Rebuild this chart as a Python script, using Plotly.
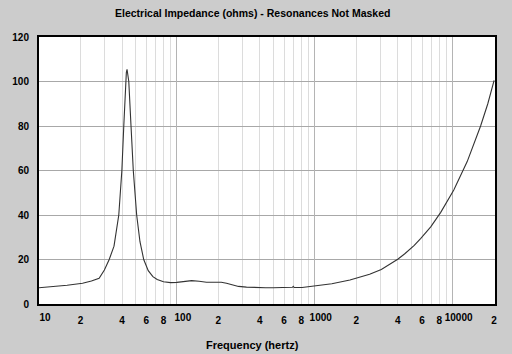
import plotly.graph_objects as go
import math

freq_hz = [10, 12.6, 16, 20.7, 24, 27.3, 29.8, 32.3, 35, 37.9, 39.9, 41.2, 42.3, 43.0, 43.5,
           44.2, 44.8, 46.5, 48.3, 51.1, 54, 57.5, 62, 67, 72, 80, 90, 100, 115, 128, 145,
           164, 190, 210, 229, 255, 280, 320, 374, 440, 500, 600, 690, 698, 710, 810, 1013,
           1330, 1800, 2015, 2500, 3040, 3500, 4000, 4500, 5270, 5880, 6940, 8200, 10200,
           12760, 15960, 18000, 20000]
impedance_ohms = [7.3, 7.8, 8.4, 9.3, 10.3, 11.6, 15.3, 20, 26, 40, 60, 80, 100, 104, 105.5,
                  103, 100, 80, 60, 40, 28, 20, 15, 12.3, 11, 10, 9.6, 9.7, 10.2, 10.5, 10.2,
                  9.8, 9.8, 9.8, 9.3, 8.5, 7.9, 7.6, 7.3, 7.3, 7.3, 7.3, 7.5, 7.9, 7.4, 7.4, 8.1,
                  9.1, 10.8, 11.6, 13.4, 15.5, 17.8, 20.1, 22.6, 26.3, 29.5, 34.7, 41.2, 51.2,
                  64, 80, 90, 100.5]

decade_vals = [10, 100, 1000, 10000]
decade_text = ["10", "100", "1000", "10000"]
minor_vals = [m * d for d in [10, 100, 1000] for m in range(2, 10)] + [20000]
minor_text = [("" if (v // 10 ** int(math.log10(v))) % 2 else str(v // 10 ** int(math.log10(v))))
              for v in minor_vals]
y_ticks = [0, 20, 40, 60, 80, 100, 120]

title_text = "Electrical Impedance (ohms) - Resonances Not Masked"
xlabel_text = "Frequency (hertz)"

xrange = [1, math.log10(20300)]
fam = "Liberation Sans, Arial, sans-serif"
font = dict(family=fam, size=10, color="#000000", weight="bold")
title_font = dict(family=fam, size=10.5, color="#000000", weight="bold")
xlabel_font = dict(family=fam, size=11, color="#000000", weight="bold")

fig = go.Figure()
fig.add_trace(go.Scatter(x=freq_hz, y=impedance_ohms, xaxis="x2", yaxis="y",
                         mode="lines", line=dict(color="rgba(0,0,0,0)", width=1),
                         hoverinfo="skip", showlegend=False))
fig.add_trace(go.Scatter(x=freq_hz, y=impedance_ohms, mode="lines",
                         line=dict(color="#333333", width=1.1), showlegend=False))

fig.update_layout(
    width=512, height=354,
    margin=dict(l=34, r=17, t=37, b=50),
    paper_bgcolor="#cccccc",
    plot_bgcolor="#ffffff",
    font=font,
    xaxis=dict(type="log", range=xrange, tickmode="array", tickvals=minor_vals,
               ticktext=minor_text, showgrid=True, gridcolor="#dcdcdc", gridwidth=1,
               ticks="", ticklabelstandoff=6, showline=True, linecolor="#000000",
               linewidth=2, mirror=True, zeroline=False, tickfont=font),
    xaxis2=dict(type="log", range=xrange, overlaying="x", side="bottom", anchor="y",
                tickmode="array", tickvals=decade_vals, ticktext=decade_text,
                showgrid=True, gridcolor="#b4b4b4", gridwidth=1, ticks="",
                ticklabelstandoff=6, ticklabelshift=6, showline=False,
                zeroline=False, tickfont=font),
    yaxis=dict(range=[0, 120], tickmode="array", tickvals=y_ticks, showgrid=True,
               gridcolor="#a8a8a8", gridwidth=1, ticks="", ticklabelstandoff=6,
               showline=True, linecolor="#000000", linewidth=2, mirror=True,
               zeroline=False, tickfont=font),
    annotations=[
        dict(text=title_text, xref="paper", yref="paper", x=0.4685, y=1, yshift=24,
             showarrow=False, font=title_font, xanchor="center", yanchor="middle"),
        dict(text=xlabel_text, xref="paper", yref="paper", x=0.4685, y=0, yshift=-41,
             showarrow=False, font=xlabel_font, xanchor="center", yanchor="middle"),
    ],
)

fig.write_html("out.html")
